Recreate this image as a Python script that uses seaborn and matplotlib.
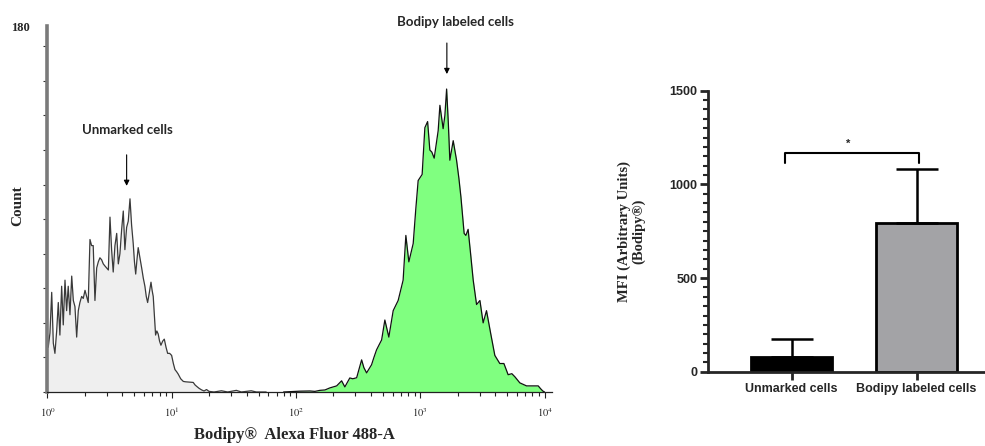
import numpy as np
import pandas as pd
import seaborn as sns
import matplotlib
matplotlib.use('Agg')
from matplotlib import pyplot as plt
from matplotlib.ticker import FixedLocator, LogLocator, NullFormatter

sns.set_style('ticks')
plt.rcParams['font.family'] = ['Liberation Serif', 'DejaVu Serif']
plt.rcParams['mathtext.fontset'] = 'stix'

# ---- flow cytometry histogram, x in log10 units, y = count ----
unmarked_log = [0.000, 0.006, 0.020, 0.034, 0.047, 0.060, 0.074, 0.087, 0.100, 0.114,
                0.127, 0.141, 0.154, 0.167, 0.181, 0.195, 0.208, 0.221, 0.235, 0.248,
                0.261, 0.275, 0.288, 0.302, 0.315, 0.328, 0.342, 0.355, 0.368, 0.382,
                0.396, 0.409, 0.422, 0.436, 0.449, 0.462, 0.476, 0.490, 0.503, 0.516,
                0.529, 0.543, 0.557, 0.570, 0.583, 0.597, 0.610, 0.623, 0.637, 0.650,
                0.664, 0.677, 0.690, 0.700, 0.710, 0.720, 0.730, 0.744, 0.758, 0.771,
                0.784, 0.795, 0.806, 0.820, 0.833, 0.842, 0.851, 0.860, 0.870, 0.880,
                0.891, 0.902, 0.913, 0.927, 0.940, 0.954, 0.967, 0.983, 0.999, 1.013,
                1.026, 1.039, 1.052, 1.072, 1.093, 1.113, 1.133, 1.153, 1.173, 1.187,
                1.200, 1.220, 1.241, 1.260, 1.280, 1.300, 1.340, 1.400, 1.450, 1.520,
                1.560, 1.640, 1.680, 1.760]
unmarked_count = [28, 22, 29, 49, 24, 19, 30, 44, 28, 52,
                  33, 55, 40, 52, 38, 57, 45, 42, 27, 40,
                  44, 47, 46, 50, 47, 44, 75, 72, 72, 45,
                  61, 64, 66, 65, 63, 62, 61, 60, 86, 70,
                  59, 72, 78, 63, 68, 80, 89, 70, 81, 84,
                  95, 82, 73, 64, 58, 65, 71, 66, 61, 56,
                  52, 47, 44, 49, 54, 50, 47, 38, 28, 30,
                  28.5, 25, 23, 25, 26, 22, 19, 19, 18, 14,
                  11, 10, 8.8, 6.5, 5.2, 5.0, 4.9, 4.8, 4.7, 3.5,
                  2.8, 1.8, 1.0, 0.5, 1.2, 0.3, 0, 0.6, 0, 0.8,
                  0, 0.6, 0, 0]

labeled_log = [1.900, 2.031, 2.112, 2.152, 2.192, 2.233, 2.272, 2.327, 2.367, 2.393,
               2.433, 2.457, 2.488, 2.528, 2.546, 2.568, 2.608, 2.627, 2.648, 2.667,
               2.689, 2.715, 2.747, 2.782, 2.822, 2.862, 2.884, 2.908, 2.943, 2.964,
               2.983, 3.015, 3.037, 3.059, 3.077, 3.093, 3.112, 3.144, 3.158, 3.184,
               3.198, 3.212, 3.226, 3.238, 3.265, 3.292, 3.311, 3.327, 3.353, 3.367,
               3.385, 3.405, 3.426, 3.453, 3.480, 3.506, 3.533, 3.566, 3.600, 3.640,
               3.673, 3.707, 3.737, 3.761, 3.801, 3.855, 3.906, 3.949, 3.970, 3.986,
               4.000]
labeled_count = [0, 0.4, 0.5, 0.3, 0.8, 1.0, 2, 3, 5.5, 2.5,
                 6.9, 6.5, 7, 15.8, 12, 9.4, 13.4, 17, 20.7, 23,
                 25.6, 35.4, 27, 40, 45, 55, 77, 64, 73, 90,
                 104, 107, 130, 133, 119, 118, 115, 128.5, 141, 129.5,
                 136, 149, 132, 114, 123.6, 114, 105, 96, 78, 77,
                 80, 68, 55, 43, 45, 34, 40, 29, 18, 14,
                 14, 8.5, 9, 7.5, 4.5, 3, 3, 3, 1.5, 0.5,
                 0]

# ---- MFI bar chart ----
groups = ['Unmarked cells', 'Bodipy labeled cells']
mfi_mean = [80, 792]
mfi_sd = [93, 288]

fig = plt.figure(figsize=(9.85, 4.46), dpi=100)
ax1 = fig.add_axes([0.0482, 0.1211, 0.5122, 0.8206])
ax2 = fig.add_axes([0.7191, 0.1666, 0.2809, 0.6300])

# histogram panel
for logs, counts, fill, edge in [(unmarked_log, unmarked_count, '#efefef', '#3a3a3a'),
                                  (labeled_log, labeled_count, '#80ff80', '#111111')]:
    xs = 10 ** np.array(logs)
    ax1.fill_between(xs, counts, color=fill, lw=0, zorder=1)
    sns.lineplot(x=xs, y=counts, ax=ax1, color=edge, lw=0.9,
                 estimator=None, sort=False, zorder=2)

ax1.set_xscale('log')
ax1.set_xlim(1, 10 ** 4.06)
ax1.set_ylim(0, 180)
ax1.set_xticks([1, 10, 100, 1000, 10000])
ax1.set_xticklabels([r'$10^{0}$', r'$10^{1}$', r'$10^{2}$', r'$10^{3}$', r'$10^{4}$'], fontsize=7.5)
ax1.xaxis.set_minor_locator(LogLocator(base=10, subs=np.arange(2, 10)))
ax1.xaxis.set_minor_formatter(NullFormatter())
ax1.set_yticks(list(range(0, 171, 17)) + [180])
ax1.set_yticklabels([''] * 11 + ['180'], fontsize=9, fontweight='bold')
ax1.yaxis.get_major_ticks()[-1].tick1line.set_visible(False)
ax1.tick_params(axis='x', which='major', length=4, width=0.8, pad=6, color='#222222')
ax1.tick_params(axis='x', which='minor', length=3, width=0.8, color='#222222')
ax1.tick_params(axis='y', length=3, width=0.8, pad=10, color='#333333')
for s in ['top', 'right']:
    ax1.spines[s].set_visible(False)
ax1.spines['left'].set_color('#7a7a7a')
ax1.spines['left'].set_linewidth(2.6)
ax1.spines['bottom'].set_linewidth(0.9)
ax1.spines['bottom'].set_color('#222222')
ax1.set_xlabel('Bodipy®  Alexa Fluor 488-A', fontsize=12, fontweight='bold')
ax1.xaxis.set_label_coords(0.49, -0.095)
ax1.set_ylabel('Count', fontsize=11, fontweight='bold')
ax1.yaxis.set_label_coords(-0.047, 0.51)

ax1.annotate('', xy=(10 ** 0.637, 100), xytext=(10 ** 0.637, 118),
             arrowprops=dict(arrowstyle='-|>', color='black', lw=0.8, mutation_scale=8))
ax1.text(10 ** 0.642, 129, 'Unmarked cells', ha='center', va='center',
         fontsize=9.5, fontweight='bold', family=['Lato', 'DejaVu Sans'])
ax1.annotate('', xy=(10 ** 3.214, 155), xytext=(10 ** 3.214, 173),
             arrowprops=dict(arrowstyle='-|>', color='black', lw=0.8, mutation_scale=8),
             annotation_clip=False)
ax1.text(10 ** 3.28, 182, 'Bodipy labeled cells', ha='center', va='center',
         fontsize=9.5, fontweight='bold', family=['Lato', 'DejaVu Sans'], clip_on=False)

# bar panel
mfi = pd.DataFrame({'group': groups, 'mfi': mfi_mean})
sns.barplot(data=mfi, x='group', y='mfi', hue='group', palette=['#000000', '#a3a3a7'],
            width=0.65, edgecolor='black', linewidth=2, legend=False, ax=ax2)
ax2.errorbar(x=[0, 1], y=mfi_mean, yerr=[[0, 0], mfi_sd], fmt='none', ecolor='black',
             elinewidth=1.8, capsize=15, capthick=1.8, zorder=1)
ax2.set_xlim(-0.666, 1.548)
ax2.set_ylim(0, 1500)
ax2.yaxis.set_major_locator(FixedLocator([0, 500, 1000, 1500]))
ax2.yaxis.set_minor_locator(FixedLocator(list(range(0, 1501, 50))))
for s in ['top', 'right']:
    ax2.spines[s].set_visible(False)
for s in ['left', 'bottom']:
    ax2.spines[s].set_linewidth(2)
ax2.tick_params(axis='both', which='major', length=6, width=2, pad=2)
ax2.tick_params(axis='y', which='minor', length=3.5, width=1.5)
for lab in ax2.get_xticklabels() + ax2.get_yticklabels():
    lab.set_fontfamily(['Liberation Sans', 'DejaVu Sans'])
    lab.set_fontweight('bold')
    lab.set_fontsize(9)
ax2.set_xlabel('')
ax2.set_ylabel('MFI (Arbitrary Units)\n(Bodipy®)', fontsize=10.5, fontweight='bold',
               linespacing=1.05)
ax2.yaxis.set_label_coords(-0.229, 0.5)

# significance bracket
ax2.plot([-0.05, -0.05, 1.02, 1.02], [1116, 1166, 1166, 1116], color='black', lw=1.5)
ax2.text(0.45, 1215, '*', ha='center', va='center', fontsize=8, fontweight='bold',
         family=['Liberation Sans', 'DejaVu Sans'])

fig.savefig('out.png', dpi=100)
